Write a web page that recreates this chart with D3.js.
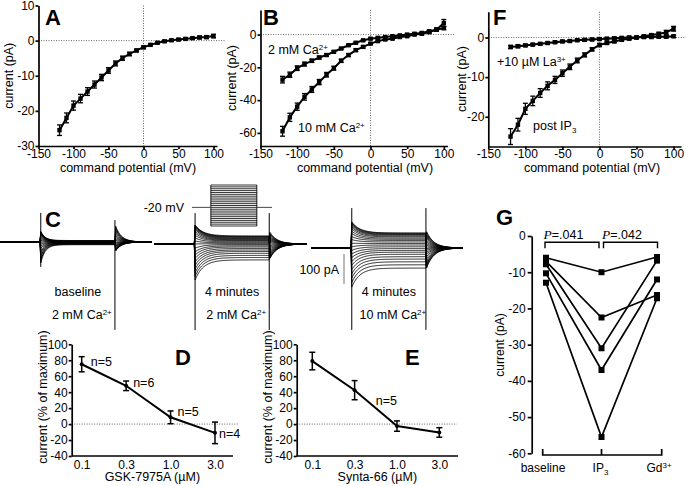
<!DOCTYPE html>
<html>
<head>
<meta charset="utf-8">
<script src="https://cdn.jsdelivr.net/npm/d3@7"></script>
<style>
  body { margin: 0; background: #fff; }
  svg { display: block; font-family: "Liberation Sans", Arial, Helvetica, sans-serif; }
  .axis path, .axis line { stroke: #000; stroke-width: 1.7; fill: none; }
  .axis text { font-size: 12px; fill: #000; font-family: "Liberation Sans", Arial, sans-serif; }
  .dot { stroke: #666; stroke-width: 1; stroke-dasharray: 1 1.5; }
  .letter { font-weight: bold; font-size: 22px; }
</style>
</head>
<body>
<div id="fig"></div>
<script>
// ---- data ----
const stepMv = [-120, -110, -100, -90, -80, -70, -60, -50, -40, -30, -20, -10, 0, 10, 20, 30, 40, 50, 60, 70, 80, 90, 100];
const ivTicks = [-150, -100, -50, 0, 50, 100];

// A: I-V (single condition)
const ivA    = [-25.5, -22, -18.5, -16.5, -14.5, -12.5, -10.5, -8.5, -6.5, -5, -3.8, -2.8, -1.9, -1.2, -0.6, -0.2, 0.1, 0.3, 0.5, 0.7, 0.9, 1.0, 1.3];
const ivAErr = [1.5, 1.4, 1.3, 1.2, 1.1, 1.0, 0.9, 0.8, 0.7, 0.6, 0.5, 0.4, 0.4, 0.3, 0.3, 0.3, 0.3, 0.3, 0.3, 0.3, 0.4, 0.4, 0.5];

// B: 2 mM vs 10 mM Ca2+
const ivB2     = [-27.5, -24.5, -20.5, -18, -16, -14, -12.5, -10.5, -8.5, -6.5, -5, -3.5, -2.5, -2, -1.5, -1, -0.5, 0, 0.5, 1, 2, 3, 4];
const ivB2Err  = [2, 1.6, 1.4, 1.2, 1.0, 0.9, 0.8, 0.7, 0.6, 0.5, 0.5, 0.4, 0.4, 0.4, 0.4, 0.4, 0.4, 0.4, 0.5, 0.5, 0.6, 0.8, 1.0];
const ivB10    = [-59, -50.5, -44, -38, -33.5, -29, -24.5, -20.5, -16, -12.5, -9.5, -7.5, -5.5, -4, -3, -2.5, -1.5, -1, 0, 0.5, 1.5, 3, 7];
const ivB10Err = [3, 2.5, 2.2, 2, 1.8, 1.6, 1.4, 1.2, 1.0, 0.9, 0.8, 0.7, 0.6, 0.5, 0.5, 0.5, 0.5, 0.5, 0.5, 0.6, 0.8, 1.0, 2.2];

// F: post IP3 vs +La3+
const ivFIp3    = [-25, -22, -18, -16, -14, -12.2, -10.7, -9, -7.4, -5.8, -4.4, -3, -1.9, -1.4, -1.0, -0.6, -0.3, 0, 0.3, 0.6, 0.9, 1.3, 2.2];
const ivFIp3Err = [2, 1.6, 1.4, 1.2, 1.1, 1.0, 0.9, 0.8, 0.7, 0.6, 0.5, 0.4, 0.4, 0.3, 0.3, 0.3, 0.3, 0.3, 0.3, 0.3, 0.4, 0.5, 0.6];
const ivFLa     = [-2.4, -2.2, -2.0, -1.8, -1.6, -1.4, -1.2, -1.0, -0.9, -0.7, -0.6, -0.5, -0.4, -0.3, -0.2, -0.1, 0, 0, 0.1, 0.1, 0.2, 0.2, 0.3];
const ivFLaErr  = [0.4, 0.4, 0.3, 0.3, 0.3, 0.3, 0.3, 0.3, 0.3, 0.3, 0.3, 0.3, 0.3, 0.3, 0.3, 0.3, 0.3, 0.3, 0.3, 0.3, 0.3, 0.3, 0.3];

// C: raw current traces (pA), one value per voltage step
const ssBase   = [-9, -8, -7, -6, -5, -4.5, -4, -3, -2.5, -2, -1.5, -1, -0.5, 0, 0.5, 1, 1.5, 2, 2.5, 3, 3.5, 4, 5];
const onBase   = [-70, -63, -56, -49, -42, -35, -28, -21, -14, -7, 0, 6, 11, 16, 20, 24, 27, 29, 31, 32, 33, 34, 35];
const tailBase = [60, 54, 48, 42, 36, 30, 24, 18, 12, 6, 0, -4, -8, -12, -15, -18, -21, -24, -26, -28, -30, -32, -34];

const ss4min2   = [-53, -45, -38, -31, -25, -20, -15, -10, -6, -2, 1, 4, 7, 10, 12, 14, 16, 18, 20, 22, 24, 25, 27];
const on4min2   = [-120, -108, -96, -84, -72, -60, -48, -37, -26, -14, 0, 10, 20, 29, 37, 44, 50, 54, 57, 59, 61, 62, 63];
const tail4min2 = [43, 39, 35, 31, 27, 23, 19, 15, 11, 6, 0, -6, -12, -18, -24, -29, -34, -38, -42, -46, -49, -51, -53];

const ss4min10   = [-67, -56, -46, -37, -29, -21, -14, -8, -2, 4, 10, 15, 20, 25, 29, 33, 37, 40, 43, 45, 47, 49, 50];
const on4min10   = [-130, -115, -100, -86, -72, -58, -45, -32, -20, -8, 4, 16, 28, 38, 48, 56, 64, 70, 75, 79, 82, 85, 87];
const tail4min10 = [60, 55, 50, 45, 40, 34, 28, 22, 16, 10, 4, -2, -8, -15, -22, -30, -38, -46, -53, -59, -64, -69, -73];

// capacitive spikes [top, bottom] in pA at step on / off
const spikesBase  = [[97, -83], [73, -293]];
const spikes4min2 = [[103, -287], [103, -287]];
const spikes4min10 = [[133, -273], [133, -273]];

// D/E: concentration-response
const doseLabels = ['0.1', '0.3', '1.0', '3.0'];
const gskMean = [75, 48, 8.5, -11];
const gskErr  = [9.5, 6, 8, 13.5];
const gskN    = ['n=5', 'n=6', 'n=5', 'n=4'];
const syntaMean = [79, 42.5, -2.5, -10.5];
const syntaErr  = [11, 12, 6.5, 6];

// G: paired cells
const gCategories = ['baseline', 'IP3', 'Gd3+'];
const gCells = [
  [-6, -10, -5.8],
  [-7, -22.5, -16.3],
  [-7.8, -31, -6.8],
  [-10.3, -37, -12],
  [-12.9, -55.5, -17.2]
];
const gPvalues = ['.041', '.042'];

// ---- drawing ----
const svg = d3.select('#fig').append('svg').attr('width', 686).attr('height', 486);
const fmt = d => String(d);

// text with superscript / subscript pieces
function rich(g, x, y, parts, {size = 12.5, anchor = 'start'} = {}) {
  const t = g.append('text').attr('x', x).attr('y', y)
    .attr('font-size', size).attr('text-anchor', anchor);
  let shift = 0;
  parts.forEach(([s, kind]) => {
    const target = kind === 'sup' ? -4.5 : kind === 'sub' ? 3 : 0;
    t.append('tspan').attr('dy', target - shift)
      .attr('font-size', kind ? 8 : null).text(s);
    shift = target;
  });
  return t;
}

function yTitle(g, x, cy, txt, size = 12.5) {
  g.append('text').attr('transform', `translate(${x},${cy}) rotate(-90)`)
    .attr('text-anchor', 'middle').attr('dy', '0.35em')
    .attr('font-size', size).text(txt);
}

function drawIV(opt) {
  const g = svg.append('g');
  const x = d3.scaleLinear().domain(opt.xDomain).range(opt.xRange);
  const y = d3.scaleLinear().domain(opt.yDomain).range(opt.yRange);

  g.append('line').attr('class', 'dot')
    .attr('x1', opt.xRange[0]).attr('x2', opt.dotEnd)
    .attr('y1', y(0)).attr('y2', y(0));
  g.append('line').attr('class', 'dot')
    .attr('x1', x(0)).attr('x2', x(0))
    .attr('y1', opt.yRange[1]).attr('y2', opt.yRange[0]);

  g.append('g').attr('class', 'axis')
    .attr('transform', `translate(0,${opt.yRange[0]})`)
    .call(d3.axisBottom(x).tickValues(ivTicks).tickFormat(fmt).tickSize(3).tickPadding(0).tickSizeOuter(0));
  g.append('g').attr('class', 'axis')
    .attr('transform', `translate(${opt.xRange[0]},0)`)
    .call(d3.axisLeft(y).tickValues(opt.yTicks).tickFormat(fmt).tickSize(3).tickPadding(1).tickSizeOuter(0));

  const line = d3.line().x((d, i) => x(stepMv[i])).y(d => y(d));
  opt.series.forEach(s => {
    g.append('path').datum(s.v).attr('d', line)
      .attr('fill', 'none').attr('stroke', '#000').attr('stroke-width', 2);
    const eb = g.append('g').selectAll('g').data(s.v).join('g');
    eb.append('line')
      .attr('x1', (d, i) => x(stepMv[i])).attr('x2', (d, i) => x(stepMv[i]))
      .attr('y1', (d, i) => y(d - s.e[i])).attr('y2', (d, i) => y(d + s.e[i]))
      .attr('stroke', '#000').attr('stroke-width', 1.3);
    [-1, 1].forEach(sg => {
      eb.append('line')
        .attr('x1', (d, i) => x(stepMv[i]) - 2.5).attr('x2', (d, i) => x(stepMv[i]) + 2.5)
        .attr('y1', (d, i) => y(d + sg * s.e[i])).attr('y2', (d, i) => y(d + sg * s.e[i]))
        .attr('stroke', '#000').attr('stroke-width', 1.3);
    });
    eb.append('rect')
      .attr('x', (d, i) => x(stepMv[i]) - 2.2).attr('y', d => y(d) - 2.2)
      .attr('width', 4.4).attr('height', 4.4).attr('fill', '#000');
  });

  g.append('text').attr('class', 'letter').attr('x', opt.letterX).attr('y', 25).text(opt.letter);
  yTitle(g, opt.yTitleX, (opt.yRange[0] + opt.yRange[1]) / 2, 'current (pA)');
  g.append('text').attr('x', opt.xTitleX).attr('y', 172).attr('text-anchor', 'middle')
    .attr('font-size', 12.5).text('command potential (mV)');
  return {g, x, y};
}

drawIV({
  xDomain: [-150, 105], xRange: [38.5, 217], yDomain: [-30, 10], yRange: [146, 5.5],
  yTicks: [-30, -20, -10, 0, 10], dotEnd: 226,
  series: [{v: ivA, e: ivAErr}],
  letter: 'A', letterX: 45, yTitleX: 9, xTitleX: 128
});

const pB = drawIV({
  xDomain: [-150, 105], xRange: [260.5, 447.5], yDomain: [-68, 15], yRange: [146, 10],
  yTicks: [-60, -40, -20, 0], dotEnd: 455,
  series: [{v: ivB2, e: ivB2Err}, {v: ivB10, e: ivB10Err}],
  letter: 'B', letterX: 263, yTitleX: 232, xTitleX: 365
});
rich(pB.g, 268, 54, [['2 mM Ca'], ['2+', 'sup']]);
rich(pB.g, 298, 132, [['10 mM Ca'], ['2+', 'sup']]);

const pF = drawIV({
  xDomain: [-150, 110], xRange: [488.3, 681], yDomain: [-27.5, 6.5], yRange: [146.5, 11.7],
  yTicks: [-20, -10, 0], dotEnd: 686,
  series: [{v: ivFIp3, e: ivFIp3Err}, {v: ivFLa, e: ivFLaErr}],
  letter: 'F', letterX: 493, yTitleX: 462, xTitleX: 592
});
rich(pF.g, 497, 66, [['+10 \u00b5M La'], ['3+', 'sup']]);
rich(pF.g, 533, 130, [['post IP'], ['3', 'sub']]);

// ---- C: traces ----
const gC = svg.append('g');
const traceTimes = d3.range(-55, 151, 1);
function traceCurrent(t, ss, on, tail, tauOn, tauOff) {
  if (t < 0) return 0;
  if (t <= 100) return ss + (on - ss) * Math.exp(-t / tauOn);
  return tail * Math.exp(-(t - 100) / tauOff);
}
const traceGroups = [
  {x0: 0, base: 242, ss: ssBase, on: onBase, tail: tailBase, spikes: spikesBase, tauOn: 6, tauOff: 8,
   label: 'baseline', cond: '2 mM Ca'},
  {x0: 154.3, base: 244, ss: ss4min2, on: on4min2, tail: tail4min2, spikes: spikes4min2, tauOn: 11, tauOff: 10,
   label: '4 minutes', cond: '2 mM Ca'},
  {x0: 311, base: 248, ss: ss4min10, on: on4min10, tail: tail4min10, spikes: spikes4min10, tauOn: 11, tauOff: 10,
   label: '4 minutes', cond: '10 mM Ca'}
];
traceGroups.forEach(grp => {
  const tx = d3.scaleLinear().domain([-55, 150]).range([grp.x0, grp.x0 + 152]);
  const ty = d3.scaleLinear().domain([-100, 0]).range([grp.base + 30, grp.base]);
  const line = d3.line().x(t => tx(t));
  grp.ss.forEach((ss, i) => {
    gC.append('path')
      .attr('d', line.y(t => ty(traceCurrent(t, ss, grp.on[i], grp.tail[i], grp.tauOn, grp.tauOff)))(traceTimes))
      .attr('fill', 'none').attr('stroke', '#000').attr('stroke-width', 0.85);
  });
  // holding level
  gC.append('line').attr('x1', tx(-55)).attr('x2', tx(0)).attr('y1', ty(0)).attr('y2', ty(0))
    .attr('stroke', '#000').attr('stroke-width', 2.2);
  gC.append('line').attr('x1', tx(125)).attr('x2', tx(150)).attr('y1', ty(0)).attr('y2', ty(0))
    .attr('stroke', '#000').attr('stroke-width', 2);
  // capacitive spikes at step on/off
  [0, 100].forEach((t, k) => {
    gC.append('line').attr('x1', tx(t)).attr('x2', tx(t))
      .attr('y1', ty(grp.spikes[k][0])).attr('y2', ty(grp.spikes[k][1]))
      .attr('stroke', '#000').attr('stroke-width', 1);
  });
  gC.append('text').attr('x', tx(50)).attr('y', 296).attr('text-anchor', 'middle')
    .attr('font-size', 12.5).text(grp.label);
  rich(gC, tx(50) + 4, 319, [[grp.cond], ['2+', 'sup']], {anchor: 'middle'});
});
gC.append('text').attr('class', 'letter').attr('x', 45).attr('y', 227).attr('font-size', 21).text('C');

// scale bar
const sb = d3.scaleLinear().domain([-100, 0]).range([284, 254]);
gC.append('line').attr('x1', 344).attr('x2', 344).attr('y1', sb(0)).attr('y2', sb(-100))
  .attr('stroke', '#777').attr('stroke-width', 1);
gC.append('text').attr('x', 339).attr('y', 274).attr('text-anchor', 'end')
  .attr('font-size', 12.5).text('100 pA');

// voltage protocol inset
const px = d3.scaleLinear().domain([-41, 133]).range([192, 272]);
const pv = d3.scaleLinear().domain([-120, 100]).range([226, 185]);
stepMv.forEach(v => {
  gC.append('line').attr('x1', px(0)).attr('x2', px(100)).attr('y1', pv(v)).attr('y2', pv(v))
    .attr('stroke', '#000').attr('stroke-width', 0.8);
});
[0, 100].forEach(t => {
  gC.append('line').attr('x1', px(t)).attr('x2', px(t)).attr('y1', pv(-120)).attr('y2', pv(100))
    .attr('stroke', '#000').attr('stroke-width', 0.9);
});
gC.append('line').attr('x1', px(-41)).attr('x2', px(0)).attr('y1', pv(-20)).attr('y2', pv(-20))
  .attr('stroke', '#333').attr('stroke-width', 0.9);
gC.append('line').attr('x1', px(100)).attr('x2', px(133)).attr('y1', pv(-20)).attr('y2', pv(-20))
  .attr('stroke', '#333').attr('stroke-width', 0.9);
gC.append('text').attr('x', 184).attr('y', 212).attr('text-anchor', 'end')
  .attr('font-size', 12.5).text('-20 mV');

// ---- D / E ----
function drawDose(opt) {
  const g = svg.append('g');
  const x = d3.scalePoint().domain(doseLabels).range(opt.xPts);
  const y = d3.scaleLinear().domain([-40, 100]).range([456, 344.3]);
  g.append('line').attr('class', 'dot').attr('x1', opt.axisX[0]).attr('x2', opt.dotEnd)
    .attr('y1', y(0)).attr('y2', y(0));
  const ax = g.append('g').attr('class', 'axis').attr('transform', `translate(0,${y(-40)})`)
    .call(d3.axisBottom(x).tickSize(0).tickPadding(4).tickSizeOuter(0));
  ax.select('.domain').attr('d', `M${opt.axisX[0]},0H${opt.axisX[1]}`);
  g.append('g').attr('class', 'axis').attr('transform', `translate(${opt.axisX[0]},0)`)
    .call(d3.axisLeft(y).tickValues([-40, -20, 0, 20, 40, 60, 80, 100]).tickFormat(fmt)
      .tickSize(3).tickPadding(1).tickSizeOuter(0));

  g.append('path').datum(opt.mean)
    .attr('d', d3.line().x((d, i) => x(doseLabels[i])).y(d => y(d)))
    .attr('fill', 'none').attr('stroke', '#000').attr('stroke-width', 2);
  const eb = g.append('g').selectAll('g').data(opt.mean).join('g');
  eb.append('line')
    .attr('x1', (d, i) => x(doseLabels[i])).attr('x2', (d, i) => x(doseLabels[i]))
    .attr('y1', (d, i) => y(d - opt.err[i])).attr('y2', (d, i) => y(d + opt.err[i]))
    .attr('stroke', '#000').attr('stroke-width', 1.5);
  [-1, 1].forEach(sg => {
    eb.append('line')
      .attr('x1', (d, i) => x(doseLabels[i]) - 3).attr('x2', (d, i) => x(doseLabels[i]) + 3)
      .attr('y1', (d, i) => y(d + sg * opt.err[i])).attr('y2', (d, i) => y(d + sg * opt.err[i]))
      .attr('stroke', '#000').attr('stroke-width', 1.5);
  });
  eb.append('circle').attr('cx', (d, i) => x(doseLabels[i])).attr('cy', d => y(d))
    .attr('r', 2).attr('fill', '#000');

  g.append('text').attr('class', 'letter').attr('x', opt.letterX).attr('y', 365).attr('font-size', 21).text(opt.letter);
  yTitle(g, opt.yTitleX, 397, 'current (% of maximum)');
  g.append('text').attr('x', (opt.axisX[0] + opt.axisX[1]) / 2).attr('y', 481)
    .attr('text-anchor', 'middle').attr('font-size', 12.5).text(opt.xTitle);
  return {g, x, y};
}

const pD = drawDose({
  xPts: [81.7, 215], axisX: [71.7, 233], dotEnd: 238, mean: gskMean, err: gskErr,
  letter: 'D', letterX: 175, yTitleX: 43, xTitle: 'GSK-7975A  (\u00b5M)'
});
const nDx = [9, 7, 7, 4];
const nDy = [-3, -3, -5.5, 1];
gskN.forEach((n, i) => {
  pD.g.append('text').attr('x', pD.x(doseLabels[i]) + nDx[i]).attr('y', pD.y(gskMean[i]) + nDy[i])
    .attr('dy', '0.35em').attr('font-size', 12.5).text(n);
});

const pE = drawDose({
  xPts: [312.3, 439.3], axisX: [296.7, 458], dotEnd: 457, mean: syntaMean, err: syntaErr,
  letter: 'E', letterX: 405, yTitleX: 268, xTitle: 'Synta-66  (\u00b5M)'
});
pE.g.append('text').attr('x', (pE.x('0.3') + pE.x('1.0')) / 2).attr('y', pE.y(29))
  .attr('dy', '0.35em').attr('font-size', 12.5).text('n=5');

// ---- G ----
const gG = svg.append('g');
const gx = d3.scalePoint().domain(gCategories).range([546, 657]);
const gy = d3.scaleLinear().domain([-60, 0]).range([453.3, 236]);
gG.append('g').attr('class', 'axis').attr('transform', 'translate(531.7,0)')
  .call(d3.axisLeft(gy).tickValues([-60, -50, -40, -30, -20, -10, 0]).tickFormat(fmt)
    .tickSize(4).tickPadding(2).tickSizeOuter(0));
// bottom axis: bracket style with upward ticks
gG.append('path')
  .attr('d', `M${gx('baseline') - 3.3},449V455H${gx('Gd3+') + 4.7}V449M${gx('IP3')},455V449`)
  .attr('fill', 'none').attr('stroke', '#000').attr('stroke-width', 1.7);
gG.append('text').attr('x', gx('baseline') - 3).attr('y', 472).attr('text-anchor', 'middle')
  .attr('font-size', 12).text('baseline');
rich(gG, gx('IP3') - 1, 472, [['IP'], ['3', 'sub']], {size: 12, anchor: 'middle'});
rich(gG, gx('Gd3+') + 2, 472, [['Gd'], ['3+', 'sup']], {size: 12, anchor: 'middle'});

const gLine = d3.line().x((d, i) => gx(gCategories[i])).y(d => gy(d));
gCells.forEach(cell => {
  gG.append('path').attr('d', gLine(cell)).attr('fill', 'none')
    .attr('stroke', '#000').attr('stroke-width', 1.7);
  cell.forEach((v, i) => {
    gG.append('rect').attr('x', gx(gCategories[i]) - 3).attr('y', gy(v) - 3)
      .attr('width', 6).attr('height', 6).attr('fill', '#000');
  });
});
// significance brackets
const brackets = [[gx('baseline') - 1, gx('IP3') - 2.5], [gx('IP3') + 2, gx('Gd3+') + 0.5]];
brackets.forEach(([a, b], k) => {
  gG.append('path').attr('d', `M${a},248.3V242.3H${b}V248.3`)
    .attr('fill', 'none').attr('stroke', '#000').attr('stroke-width', 1.4);
  const t = gG.append('text').attr('x', a - 1.5).attr('y', 238.5).attr('font-size', 12.5);
  t.append('tspan').attr('font-family', '"Liberation Serif", "Times New Roman", serif')
    .attr('font-style', 'italic').attr('font-size', 13.5).text('P');
  t.append('tspan').text('=' + gPvalues[k]);
});
gG.append('text').attr('class', 'letter').attr('x', 496).attr('y', 225).attr('font-size', 19).text('G');
yTitle(gG, 500, 345, 'current (pA)', 12);
</script>
</body>
</html>
